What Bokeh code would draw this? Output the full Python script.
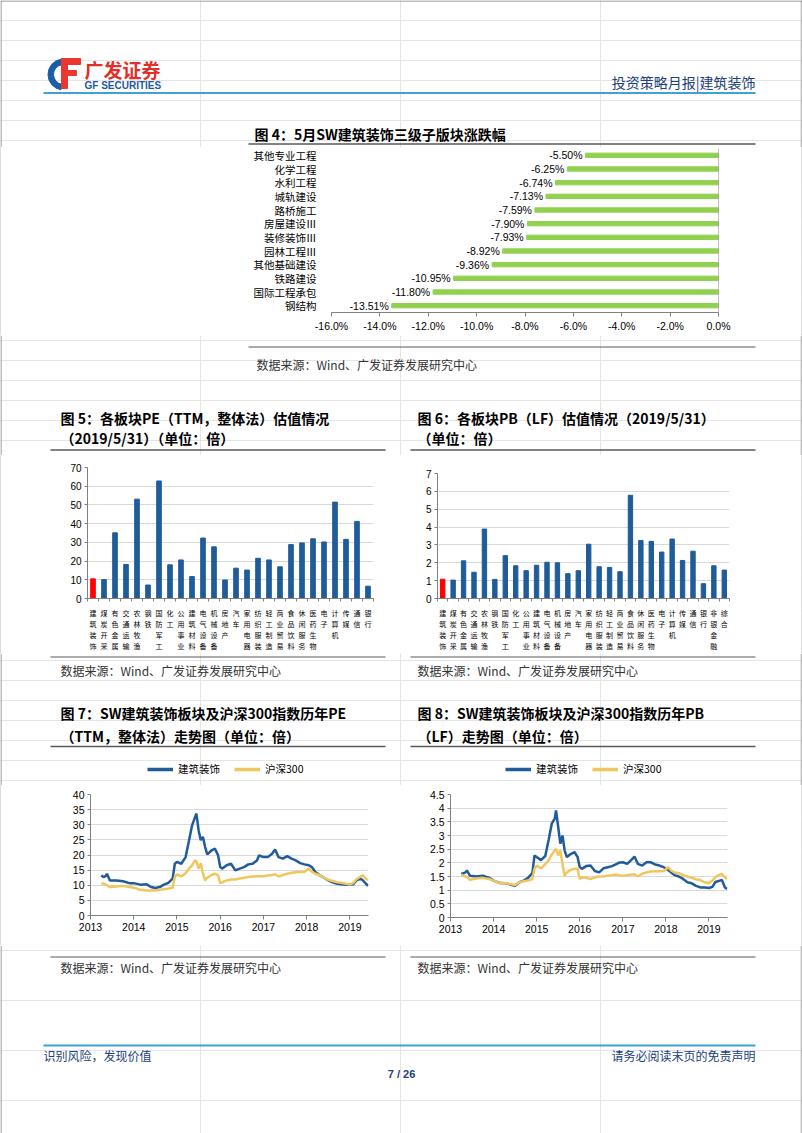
from bokeh.plotting import figure
from bokeh.layouts import column, row
from bokeh.models import Range1d, FactorRange, FixedTicker, PrintfTickFormatter, Legend, Span
from bokeh.core.properties import value
from bokeh.embed import file_html
from bokeh.resources import INLINE

CJK = "Noto Sans CJK SC"
LAT = "Liberation Sans"
BLUE = "#1f5c99"
RED = "#ff0000"
GREEN = "#92d050"
YEL = "#f0c75e"
AX = "#808080"
GRID = "#d9d9d9"
NAVY = "#22407a"
SKY = "#3ea2d8"
DARK = "#595959"
EDGE = "#7f7f7f"

# ---------------- data ----------------
f4_names = ["其他专业工程", "化学工程", "水利工程", "城轨建设", "路桥施工", "房屋建设Ⅲ",
            "装修装饰Ⅲ", "园林工程Ⅲ", "其他基础建设", "铁路建设", "国际工程承包", "钢结构"]
f4_vals = [-5.50, -6.25, -6.74, -7.13, -7.59, -7.90, -7.93, -8.92, -9.36, -10.95, -11.80, -13.51]
f4_ticks = [-16, -14, -12, -10, -8, -6, -4, -2, 0]

f5_names = ["建筑装饰", "煤炭开采", "有色金属", "交通运输", "农林牧渔", "钢铁", "国防军工", "化工",
            "公用事业", "建筑材料", "电气设备", "机械设备", "房地产", "汽车", "家用电器", "纺织服装",
            "轻工制造", "商业贸易", "食品饮料", "休闲服务", "医药生物", "电子", "计算机", "传媒", "通信", "银行"]
f5_vals = [10.5, 10.1, 35.1, 18.2, 53.1, 7.2, 62.8, 18.0, 20.6, 11.7, 32.3, 27.6, 9.9, 16.2, 15.2,
           21.5, 20.6, 16.9, 28.8, 29.7, 31.9, 30.2, 51.5, 31.6, 41.2, 6.6]
f5_yticks = [0, 10, 20, 30, 40, 50, 60, 70]

f6_names = ["建筑装饰", "煤炭开采", "有色金属", "交通运输", "农林牧渔", "钢铁", "国防军工", "化工",
            "公用事业", "建筑材料", "电气设备", "机械设备", "房地产", "汽车", "家用电器", "纺织服装",
            "轻工制造", "商业贸易", "食品饮料", "休闲服务", "医药生物", "电子", "计算机", "传媒", "通信",
            "银行", "非银金融", "综合"]
f6_vals = [1.08, 1.03, 2.11, 1.47, 3.89, 1.07, 2.40, 1.83, 1.56, 1.86, 2.03, 2.00, 1.39, 1.56, 3.04,
           1.78, 1.74, 1.50, 5.78, 3.25, 3.20, 2.60, 3.33, 2.13, 2.65, 0.83, 1.83, 1.59]
f6_yticks = [0, 1, 2, 3, 4, 5, 6, 7]

years = [2013, 2014, 2015, 2016, 2017, 2018, 2019]
t_hist = [2013.25, 2013.30, 2013.35, 2013.38, 2013.45, 2013.60, 2013.75, 2013.90,
          2014.00, 2014.15, 2014.30, 2014.40, 2014.50, 2014.60, 2014.70, 2014.80, 2014.90, 2014.95,
          2015.00, 2015.10, 2015.20, 2015.28, 2015.35, 2015.42, 2015.45, 2015.50, 2015.55, 2015.60,
          2015.65, 2015.70, 2015.80, 2015.88, 2015.95,
          2016.00, 2016.05, 2016.15, 2016.25, 2016.35, 2016.45, 2016.55, 2016.65, 2016.75, 2016.85, 2016.90,
          2017.00, 2017.10, 2017.20, 2017.27, 2017.35, 2017.45, 2017.55, 2017.65, 2017.75, 2017.85, 2017.95,
          2018.05, 2018.12, 2018.20, 2018.30, 2018.40, 2018.50, 2018.60, 2018.70, 2018.80, 2018.90,
          2019.00, 2019.08, 2019.15, 2019.25, 2019.30, 2019.37, 2019.42]
pe_build = [13.3, 12.7, 13.0, 13.8, 11.6, 11.6, 11.3, 10.7,
            10.7, 10.2, 10.3, 9.4, 9.1, 9.4, 10.2, 10.8, 12.2, 17.1,
            17.7, 17.1, 19.3, 24.9, 29.8, 32.6, 33.7, 28.2, 24.9, 26.0,
            22.7, 20.2, 21.5, 22.1, 19.9,
            16.0, 15.5, 16.6, 17.1, 14.9, 15.5, 16.0, 16.9, 17.1, 18.2, 19.9,
            19.3, 19.3, 20.4, 21.8, 19.3, 18.8, 19.6, 18.8, 18.2, 17.3, 16.9,
            16.6, 16.0, 14.4, 13.3, 12.5, 11.6, 11.0, 10.5, 10.3, 10.2,
            10.2, 10.3, 11.6, 12.2, 11.6, 10.5, 9.8]
pe_hs300 = [10.7, 10.5, 10.3, 10.0, 9.4, 9.6, 9.8, 9.4,
            9.2, 8.5, 8.3, 8.3, 8.3, 8.5, 8.7, 8.9, 9.2, 12.7,
            13.6, 12.9, 14.0, 15.5, 16.6, 18.2, 18.0, 15.5, 17.3, 14.0,
            11.6, 12.5, 13.4, 13.8, 13.3,
            10.7, 11.0, 11.6, 11.9, 11.9, 12.2, 12.5, 12.7, 12.9, 13.0, 13.0,
            13.0, 13.2, 13.4, 13.6, 12.9, 13.4, 13.8, 14.1, 14.3, 14.4, 14.4,
            15.5, 14.5, 13.8, 13.3, 12.5, 11.8, 11.4, 11.0, 10.8, 10.5,
            10.2, 10.8, 12.0, 12.9, 13.3, 12.2, 11.6]
pb_build = [1.59, 1.62, 1.65, 1.72, 1.53, 1.50, 1.53, 1.45,
            1.35, 1.26, 1.25, 1.20, 1.16, 1.29, 1.35, 1.45, 1.62, 2.27,
            2.21, 2.10, 2.25, 2.85, 3.43, 3.62, 3.92, 3.31, 2.70, 3.00,
            2.45, 2.21, 2.33, 2.39, 2.21,
            1.85, 1.78, 1.88, 1.90, 1.70, 1.65, 1.80, 1.84, 1.88, 1.95, 2.00,
            2.02, 1.96, 2.11, 2.23, 1.96, 1.90, 2.02, 2.02, 1.94, 1.90, 1.84,
            1.74, 1.65, 1.55, 1.50, 1.41, 1.29, 1.25, 1.16, 1.10, 1.10,
            1.08, 1.12, 1.30, 1.35, 1.37, 1.10, 1.04]
pb_hs300 = [1.57, 1.52, 1.50, 1.48, 1.38, 1.43, 1.45, 1.41,
            1.35, 1.25, 1.25, 1.22, 1.19, 1.29, 1.33, 1.35, 1.41, 1.78,
            1.90, 1.80, 1.95, 2.10, 2.30, 2.45, 2.51, 2.27, 2.45, 1.96,
            1.53, 1.65, 1.75, 1.78, 1.78,
            1.41, 1.47, 1.45, 1.41, 1.47, 1.50, 1.51, 1.53, 1.55, 1.57, 1.55,
            1.53, 1.55, 1.57, 1.58, 1.51, 1.60, 1.65, 1.68, 1.69, 1.69, 1.70,
            1.84, 1.72, 1.65, 1.62, 1.55, 1.50, 1.45, 1.40, 1.37, 1.29,
            1.25, 1.35, 1.48, 1.57, 1.59, 1.47, 1.41]
pe_yticks = [0, 5, 10, 15, 20, 25, 30, 35, 40]
pb_yticks = [0, 0.5, 1, 1.5, 2, 2.5, 3, 3.5, 4, 4.5]
series_names = ["建筑装饰", "沪深300"]

SOURCE = "数据来源：Wind、广发证券发展研究中心"

COMMON = dict(output_backend="svg", toolbar_location=None, frame_align=False)


# ---------------- helpers ----------------
def decor(top, h):
    p = figure(width=802, height=h, x_range=Range1d(0, 802), y_range=Range1d(top + h, top),
               x_axis_location=None, y_axis_location=None,
               min_border_left=0, min_border_right=0, min_border_top=0, min_border_bottom=0, **COMMON)
    p.outline_line_color = None
    p.segment(x0=[0.5, 801.5], y0=[top, top], x1=[0.5, 801.5], y1=[top + h, top + h],
              line_color=EDGE, line_width=1)
    return p


def edge(h):
    e = figure(width=1, height=h, x_range=Range1d(0, 1), y_range=Range1d(0, 1),
               x_axis_location=None, y_axis_location=None,
               min_border_left=0, min_border_right=0, min_border_top=0, min_border_bottom=0,
               background_fill_color=EDGE, border_fill_color=EDGE, **COMMON)
    e.outline_line_color = None
    return e


def txt(p, x, y, s, size, color="#000000", bold=False, align="left", font=CJK):
    p.text(x=[x], y=[y], text=[s], text_font=value(font), text_font_size=size, text_color=color,
           text_font_style="bold" if bold else "normal", text_align=align, text_baseline="middle")


def hline(p, x0, x1, y, color, w):
    p.segment(x0=[x0], y0=[y], x1=[x1], y1=[y], line_color=color, line_width=w)


def style_num_axis(ax, size="10.5px"):
    ax.axis_line_color = AX
    ax.major_tick_line_color = AX
    ax.major_tick_in = 0
    ax.major_tick_out = 4
    ax.minor_tick_line_color = None
    ax.major_label_text_font = LAT
    ax.major_label_text_font_size = size
    ax.major_label_text_color = "#000000"
    ax.major_label_standoff = 3


# ---------------- A: header + fig4 title ----------------
pA = decor(0, 147)
hline(pA, 0, 802, 0.5, EDGE, 1)
pA.annular_wedge(x=[63], y=[74], inner_radius=10, outer_radius=15.5, start_angle=1.75, end_angle=4.55,
                 color="#1a5ea8")
pA.quad(left=[61], right=[80], top=[58], bottom=[64], color="#e8382f")
pA.quad(left=[61], right=[67], top=[58], bottom=[88], color="#e8382f")
pA.quad(left=[61], right=[76], top=[70], bottom=[75], color="#e8382f")
txt(pA, 84, 69, "广发证券", "19px", color="#e0302a", bold=True)
txt(pA, 84, 85, "GF SECURITIES", "10px", color="#1d5aa6", bold=True, font=LAT)
txt(pA, 755, 81, "投资策略月报|建筑装饰", "14px", color=NAVY, align="right")
hline(pA, 43, 755, 92.5, SKY, 2)
txt(pA, 254, 133, "图 4：5月SW建筑装饰三级子版块涨跌幅", "14px", bold=True)
hline(pA, 248, 755, 143.5, DARK, 1.5)

# ---------------- B: fig 4 ----------------
p4 = figure(width=800, height=188, x_range=Range1d(-16, 0), y_range=FactorRange(factors=f4_names[::-1]),
            min_border_left=330, min_border_right=83, min_border_top=1, min_border_bottom=23, **COMMON)
p4.hbar(y=f4_names, left=f4_vals, right=0, height=0.32, color=GREEN)
p4.text(x=f4_vals, y=f4_names, text=["%.2f%%" % v for v in f4_vals], x_offset=-3,
        text_align="right", text_baseline="middle", text_font=value(LAT), text_font_size="10.5px",
        text_color="#000000")
p4.grid.visible = False
p4.outline_line_color = None
p4.add_layout(Span(location=0, dimension="height", line_color=AX, line_width=1))
p4.xaxis.ticker = FixedTicker(ticks=f4_ticks)
p4.xaxis.formatter = PrintfTickFormatter(format="%.1f%%")
style_num_axis(p4.xaxis[0])
ya = p4.yaxis[0]
ya.axis_line_color = None
ya.major_tick_line_color = None
ya.major_label_text_font = CJK
ya.major_label_text_font_size = "10.5px"
ya.major_label_text_color = "#000000"
ya.major_label_standoff = 9

# ---------------- C: source 4 + titles 5/6 ----------------
pC = decor(335, 120)
hline(pC, 248, 755, 346.5, DARK, 1)
txt(pC, 256, 364, SOURCE, "12px", color="#333333")
txt(pC, 60, 417, "图 5：各板块PE（TTM，整体法）估值情况", "14px", bold=True)
txt(pC, 60, 437, "（2019/5/31）（单位：倍）", "14px", bold=True)
txt(pC, 417, 417, "图 6：各板块PB（LF）估值情况（2019/5/31）", "14px", bold=True)
txt(pC, 417, 437, "（单位：倍）", "14px", bold=True)
hline(pC, 50, 385, 449.5, DARK, 1.5)
hline(pC, 410, 755, 449.5, DARK, 1.5)


# ---------------- D: fig 5 / fig 6 ----------------
def bar_chart(names, vals, yticks, w, h, bl, br, bt, bb):
    n = len(names)
    idx = list(range(n))
    p = figure(width=w, height=h, x_range=Range1d(-0.5, n - 0.5), y_range=Range1d(yticks[0], yticks[-1]),
               min_border_left=bl, min_border_right=br, min_border_top=bt, min_border_bottom=bb, **COMMON)
    colors = [RED] + [BLUE] * (n - 1)
    p.vbar(x=idx, top=vals, width=0.42, color=colors)
    p.outline_line_color = None
    p.xgrid.visible = False
    p.ygrid.grid_line_color = GRID
    p.ygrid.ticker = FixedTicker(ticks=yticks)
    p.yaxis.ticker = FixedTicker(ticks=yticks)
    style_num_axis(p.yaxis[0], "10px")
    p.yaxis.major_tick_out = 3
    xa = p.xaxis[0]
    xa.ticker = FixedTicker(ticks=idx, minor_ticks=[i - 0.5 for i in range(n + 1)])
    xa.major_label_overrides = {i: "\n".join(nm) for i, nm in enumerate(names)}
    xa.axis_line_color = AX
    xa.major_tick_line_color = None
    xa.minor_tick_line_color = AX
    xa.minor_tick_in = 0
    xa.minor_tick_out = 3
    xa.major_label_text_font = CJK
    xa.major_label_text_font_size = "7px"
    xa.major_label_text_line_height = 1.1
    xa.major_label_text_color = "#000000"
    xa.major_label_standoff = 3
    return p


p5 = bar_chart(f5_names, f5_vals, f5_yticks, 400, 198, 86, 28, 12, 53)
p6 = bar_chart(f6_names, f6_vals, f6_yticks, 400, 198, 36, 72, 18, 42)

# ---------------- E: sources 5/6 + titles 7/8 + legends ----------------
pE = decor(653, 132)
hline(pE, 50, 385, 656.5, DARK, 1)
hline(pE, 410, 755, 656.5, DARK, 1)
txt(pE, 60, 670, SOURCE, "12px", color="#333333")
txt(pE, 417, 670, SOURCE, "12px", color="#333333")
txt(pE, 60, 712, "图 7：SW建筑装饰板块及沪深300指数历年PE", "14px", bold=True)
txt(pE, 60, 735, "（TTM，整体法）走势图（单位：倍）", "14px", bold=True)
txt(pE, 417, 712, "图 8：SW建筑装饰板块及沪深300指数历年PB", "14px", bold=True)
txt(pE, 417, 735, "（LF）走势图（单位：倍）", "14px", bold=True)
hline(pE, 50, 385, 746, DARK, 1.5)
hline(pE, 410, 755, 746, DARK, 1.5)
# legend key renderers (kept outside the visible range of this strip)
lg_b = pE.line(x=[-20, -10], y=[600, 600], line_color=BLUE, line_width=3.5)
lg_y = pE.line(x=[-20, -10], y=[600, 600], line_color=YEL, line_width=3.5)
for lx in (147, 505):
    leg = Legend(items=[(series_names[0], [lg_b]), (series_names[1], [lg_y])], orientation="horizontal",
                 location=(lx, 9), label_text_font=CJK, label_text_font_size="10.5px",
                 label_text_color="#000000", glyph_width=26, glyph_height=14, label_height=14,
                 label_standoff=5, spacing=14, padding=0, margin=0, border_line_color=None,
                 background_fill_alpha=0)
    pE.add_layout(leg)


# ---------------- F: fig 7 / fig 8 ----------------
def line_chart(s1, s2, yticks, w, h, bl, br, bt, bb):
    p = figure(width=w, height=h, x_range=Range1d(2013, 2019.43), y_range=Range1d(yticks[0], yticks[-1]),
               min_border_left=bl, min_border_right=br, min_border_top=bt, min_border_bottom=bb, **COMMON)
    p.line(t_hist, s1, line_color=BLUE, line_width=2.5)
    p.line(t_hist, s2, line_color=YEL, line_width=2.5)
    p.outline_line_color = None
    p.xgrid.visible = False
    p.ygrid.grid_line_color = GRID
    p.ygrid.ticker = FixedTicker(ticks=yticks)
    p.yaxis.ticker = FixedTicker(ticks=yticks)
    p.yaxis.major_label_overrides = {v: "%g" % v for v in yticks}
    style_num_axis(p.yaxis[0], "10.5px")
    p.yaxis.major_tick_out = 3
    p.xaxis.ticker = FixedTicker(ticks=years)
    p.xaxis.formatter = PrintfTickFormatter(format="%d")
    style_num_axis(p.xaxis[0], "10.5px")
    return p


p7 = line_chart(pe_build, pe_hs300, pe_yticks, 400, 160, 89, 33, 9, 30)
p8 = line_chart(pb_build, pb_hs300, pb_yticks, 400, 160, 49, 74, 9, 28)

# ---------------- G: sources 7/8 + footer ----------------
pG = decor(945, 188)
hline(pG, 50, 385, 956.5, DARK, 1)
hline(pG, 410, 755, 956.5, DARK, 1)
txt(pG, 60, 967, SOURCE, "12px", color="#333333")
txt(pG, 417, 967, SOURCE, "12px", color="#333333")
hline(pG, 43, 755, 1045, SKY, 2)
txt(pG, 43, 1055, "识别风险，发现价值", "12px", color=NAVY)
txt(pG, 755, 1055, "请务必阅读末页的免责声明", "12px", color=NAVY, align="right")
txt(pG, 401, 1073, "7 / 26", "11px", color=NAVY, bold=True, align="center", font=LAT)

layout = column(pA,
                row(edge(188), p4, edge(188)),
                pC,
                row(edge(198), p5, p6, edge(198)),
                pE,
                row(edge(160), p7, p8, edge(160)),
                pG)

open("out.html", "w").write(file_html(layout, INLINE))
